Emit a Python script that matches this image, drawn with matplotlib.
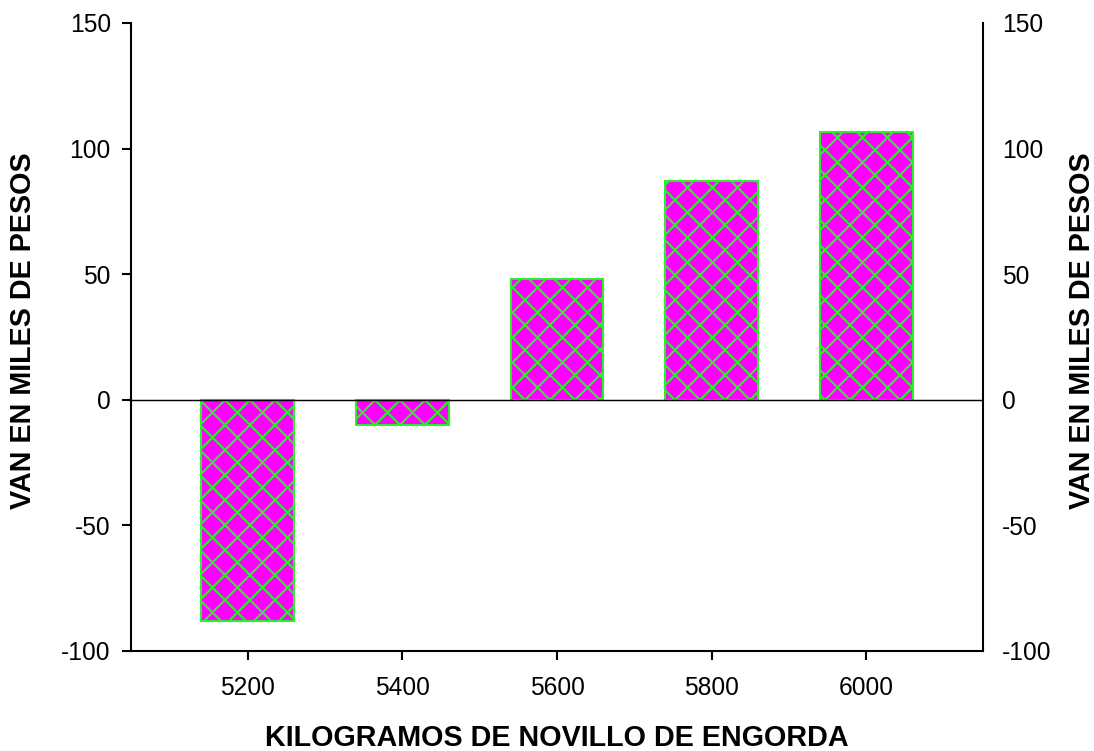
import matplotlib
matplotlib.use("Agg")
import matplotlib.pyplot as plt
import numpy as np

# datos
kilos = ["5200", "5400", "5600", "5800", "6000"]
van = [-88, -10, 48, 87, 106.5]
yticks = [-100, -50, 0, 50, 100, 150]

plt.rcParams['font.family'] = ['Liberation Sans', 'DejaVu Sans']
plt.rcParams['axes.unicode_minus'] = False
plt.rcParams['hatch.color'] = '#2bef2b'
plt.rcParams['hatch.linewidth'] = 1.0

fig = plt.figure(figsize=(1094/150, 751/150), dpi=150)
ax = fig.add_axes([131/1094, 1-651/751, 852/1094, 628/751])

x = np.arange(len(kilos))
ax.bar(x, van, width=0.6, color='#ff00ff', edgecolor='#2bef2b', linewidth=1.0, hatch='xx', zorder=2)
ax.axhline(0, color='black', linewidth=0.7, zorder=3)

ax.set_xlim(-0.755, 4.755)
ax.set_ylim(-100, 150)
ax.set_xticks(x)
ax.set_xticklabels(kilos)
ax.set_yticks(yticks)
ax.tick_params(axis='both', labelsize=11.8, length=4.2, width=1.0, direction='out')
ax.tick_params(axis='y', pad=5.5, right=False)
ax.tick_params(axis='x', pad=8, top=False)
ax.spines['top'].set_visible(False)
for s in ['left', 'right', 'bottom']:
    ax.spines[s].set_linewidth(1.0)

# eje derecho: solo etiquetas, sin marcas
ax2 = ax.twinx()
ax2.set_ylim(-100, 150)
ax2.set_yticks(yticks)
ax2.tick_params(axis='y', labelsize=11.8, right=False, left=False, length=0, pad=9)
for s in ax2.spines.values():
    s.set_visible(False)

fig.text(557/1094, 1-738/751, "KILOGRAMOS DE NOVILLO DE ENGORDA", fontsize=13.8, fontweight='bold', ha='center', va='center')
fig.text(23/1094, 1-331/751, "VAN EN MILES DE PESOS", fontsize=13.8, fontweight='bold', ha='center', va='center', rotation=90)
fig.text(1082/1094, 1-331/751, "VAN EN MILES DE PESOS", fontsize=13.8, fontweight='bold', ha='center', va='center', rotation=90)

fig.savefig("out.png", dpi=150)
